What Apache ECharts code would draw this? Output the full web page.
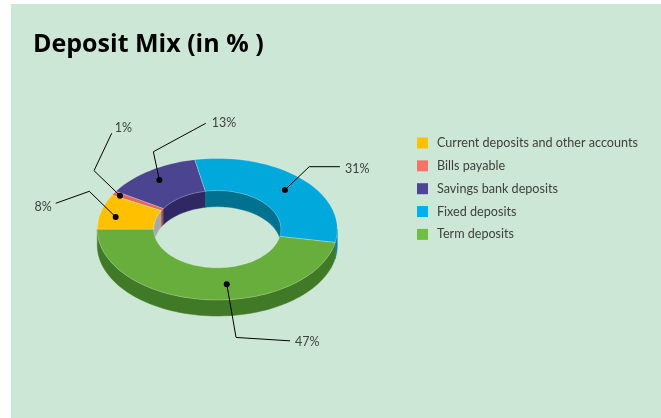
<!DOCTYPE html>
<html>
<head>
<meta charset="utf-8">
<script src="https://cdn.jsdelivr.net/npm/echarts@6/dist/echarts.min.js"></script>
<style>
html,body{margin:0;padding:0;background:#ffffff;}
#chart{width:661px;height:418px;}
</style>
</head>
<body>
<div id="chart"></div>
<script>
// ---- data ----
const categories = ['Current deposits and other accounts', 'Bills payable', 'Savings bank deposits', 'Fixed deposits', 'Term deposits'];
const values = [8, 1, 13, 31, 47];
const labelTexts = values.map(v => v + '%');

// ---- styles / layout ----
const topColors = ['#FFC000', '#E06858', '#4B4490', '#00A8DC', '#68AE3C'];
const legendColors = ['#FFC000', '#F57466', '#4E4599', '#00B0F0', '#6FBF44'];
const sideColors = ['#C79600', '#A84C40', '#2E2763', '#0082AE', '#407A27'];
const innerColors = ['#A8A8A8', '#A85045', '#2F2862', '#00718F', '#407A27'];
const geo = { cx: 217.3, cy: 229.2, rx: 120, ry: 70.8, ix: 0.53, iy: 0.545, h: 16, start: 180 };
const labelLayout = [
  { shift: 2.9, r: 0.864, elbow: [-26.4, -25.7], end: [-33.6, 12], text: [-4, 3.5], align: 'right' },
  { shift: 0.3, r: 0.939, elbow: [-26, -25], end: [17.7, -37.4], text: [3, -5.5], align: 'left' },
  { shift: 0.6, r: 0.846, elbow: [-6, -28.3], end: [52.4, -28.4], text: [6, 0], align: 'left' },
  { shift: -0.5, r: 0.79, elbow: [24.3, -23.3], end: [30.7, 0], text: [5, 2.5], align: 'left' },
  { shift: 11.2, r: 0.78, elbow: [9.3, 53.3], end: [54, 3.4], text: [5, 1], align: 'left' }
];
const legendLayout = { x: 417, y: 143, gap: 22.85, box: 11, textX: 437 };
const FONT = 'Lato, "Open Sans", sans-serif';

const total = values.reduce((a, b) => a + b, 0);
const cum = [];
values.reduce((acc, v, i) => { cum[i] = acc; return acc + v; }, 0);

function arc(rx, ry, a1, a2, dy) {
  const n = Math.max(2, Math.ceil(Math.abs(a1 - a2) / 2));
  const pts = [];
  for (let k = 0; k <= n; k++) {
    const a = (a1 + (a2 - a1) * k / n) * Math.PI / 180;
    pts.push([geo.cx + rx * Math.cos(a), geo.cy - ry * Math.sin(a) + dy]);
  }
  return pts;
}

function renderItem(params, api) {
  const i = params.dataIndex;
  const v = api.value(0);
  const a1 = geo.start - cum[i] / total * 360;
  const a2 = a1 - v / total * 360;
  const rx = geo.rx, ry = geo.ry, rxi = geo.rx * geo.ix, ryi = geo.ry * geo.iy, h = geo.h;
  const children = [];
  // outer front side wall
  const f1 = Math.min(a1, 0), f2 = Math.max(a2, -180);
  if (f1 > f2) {
    children.push({ type: 'polygon', z2: 1,
      shape: { points: arc(rx, ry, f1, f2, 0).concat(arc(rx, ry, f2, f1, h)) },
      style: { fill: sideColors[i], stroke: sideColors[i], lineWidth: 0.5 } });
  }
  // inner back wall
  const b1 = Math.min(a1, 180), b2 = Math.max(a2, 0);
  if (b1 > b2) {
    children.push({ type: 'polygon', z2: 2,
      shape: { points: arc(rxi, ryi, b1, b2, 0).concat(arc(rxi, ryi, b2, b1, h)) },
      style: { fill: innerColors[i], stroke: innerColors[i], lineWidth: 0.5 } });
  }
  // top surface
  children.push({ type: 'polygon', z2: 3,
    shape: { points: arc(rx, ry, a1, a2, 0).concat(arc(rxi, ryi, a2, a1, 0)) },
    style: { fill: topColors[i], stroke: 'rgba(255,255,255,0.35)', lineWidth: 0.7 } });
  // label
  const L = labelLayout[i];
  const am = ((a1 + a2) / 2 + L.shift) * Math.PI / 180;
  const p0 = [geo.cx + L.r * rx * Math.cos(am), geo.cy - L.r * ry * Math.sin(am)];
  const p1 = [p0[0] + L.elbow[0], p0[1] + L.elbow[1]];
  const p2 = [p1[0] + L.end[0], p1[1] + L.end[1]];
  children.push({ type: 'polyline', z2: 4, shape: { points: [p0, p1, p2] },
    style: { stroke: '#000', lineWidth: 1, fill: null } });
  children.push({ type: 'circle', z2: 5, shape: { cx: p0[0], cy: p0[1], r: 3 },
    style: { fill: '#000' } });
  children.push({ type: 'text', z2: 5,
    style: { x: p2[0] + L.text[0], y: p2[1] + L.text[1], text: labelTexts[i],
      align: L.align, verticalAlign: 'middle', fill: '#404040', font: '12.5px ' + FONT } });
  return { type: 'group', children: children };
}

const legendGraphics = [];
categories.forEach((c, i) => {
  const y = legendLayout.y + i * legendLayout.gap;
  legendGraphics.push({ type: 'rect', left: legendLayout.x, top: y - legendLayout.box / 2,
    shape: { width: legendLayout.box, height: legendLayout.box }, style: { fill: legendColors[i] } });
  legendGraphics.push({ type: 'text', x: legendLayout.textX, y: y,
    style: { text: c, fill: '#404040', font: '12.6px ' + FONT, verticalAlign: 'middle', align: 'left' } });
});

const chart = echarts.init(document.getElementById('chart'), null, { renderer: 'canvas' });
chart.setOption({
  backgroundColor: '#ffffff',
  animation: false,
  title: {
    text: 'Deposit Mix (in % )', left: 28, top: 27,
    textStyle: { fontSize: 25, fontWeight: 'bold', fontFamily: '"Open Sans", Lato, sans-serif', color: '#000000' }
  },
  graphic: [
    { type: 'rect', z: -10, left: 11, top: 4, shape: { width: 650, height: 414 }, style: { fill: '#CDE7D6' } }
  ].concat(legendGraphics),
  series: [{
    type: 'custom',
    coordinateSystem: 'none',
    renderItem: renderItem,
    data: values.map((v, i) => ({ name: categories[i], value: [v] }))
  }]
});
</script>
</body>
</html>
